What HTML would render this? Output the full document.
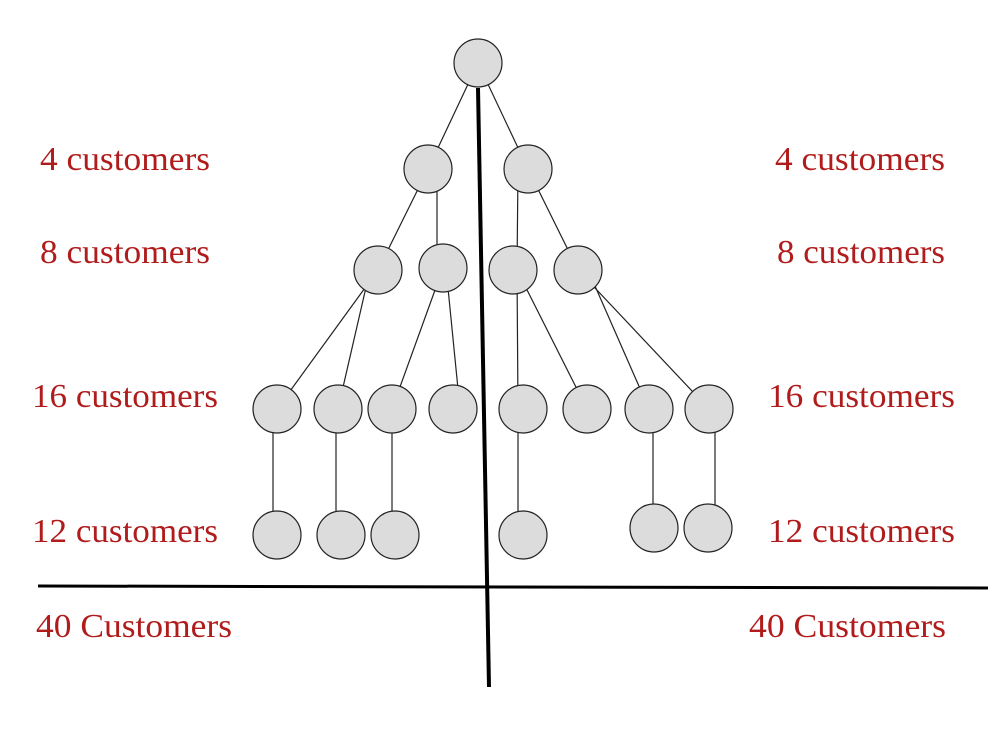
<!DOCTYPE html>
<html><head><style>body{margin:0;background:#fff}</style></head><body>
<svg width="1000" height="750" xmlns="http://www.w3.org/2000/svg" style="display:block">
<g stroke="#222" stroke-width="1.2" fill="none">
<line x1="478" y1="63" x2="428" y2="169"/><line x1="478" y1="63" x2="528" y2="169"/>
<line x1="428" y1="169" x2="378" y2="270"/><line x1="437" y1="169" x2="437" y2="268"/>
<line x1="518" y1="169" x2="517" y2="270"/><line x1="528" y1="169" x2="578" y2="270"/>
<line x1="378" y1="270" x2="277" y2="409"/><line x1="370" y1="270" x2="338" y2="409"/>
<line x1="443" y1="268" x2="392" y2="409"/><line x1="446" y1="268" x2="460" y2="409"/>
<line x1="517" y1="270" x2="518" y2="409"/><line x1="517" y1="270" x2="587" y2="409"/>
<line x1="588" y1="270" x2="649" y2="409"/><line x1="578" y1="270" x2="709" y2="409"/>
<line x1="273" y1="409" x2="273" y2="535"/><line x1="336" y1="409" x2="336" y2="535"/>
<line x1="392" y1="409" x2="392" y2="535"/><line x1="518" y1="409" x2="518" y2="535"/>
<line x1="653" y1="409" x2="653" y2="528"/><line x1="715" y1="409" x2="715" y2="528"/>
</g>
<g fill="#dcdcdc" stroke="#222" stroke-width="1.2">
<circle cx="478" cy="63" r="24"/>
<circle cx="428" cy="169" r="24"/><circle cx="528" cy="169" r="24"/>
<circle cx="378" cy="270" r="24"/><circle cx="443" cy="268" r="24"/><circle cx="513" cy="270" r="24"/><circle cx="578" cy="270" r="24"/>
<circle cx="277" cy="409" r="24"/><circle cx="338" cy="409" r="24"/><circle cx="392" cy="409" r="24"/><circle cx="453" cy="409" r="24"/>
<circle cx="523" cy="409" r="24"/><circle cx="587" cy="409" r="24"/><circle cx="649" cy="409" r="24"/><circle cx="709" cy="409" r="24"/>
<circle cx="277" cy="535" r="24"/><circle cx="341" cy="535" r="24"/><circle cx="395" cy="535" r="24"/><circle cx="523" cy="535" r="24"/>
<circle cx="654" cy="528" r="24"/><circle cx="708" cy="528" r="24"/>
</g>
<line x1="478" y1="88" x2="489" y2="687" stroke="#000" stroke-width="4"/>
<line x1="38" y1="586" x2="988" y2="588" stroke="#000" stroke-width="3"/>
<g fill="#b01c1c" font-family="Liberation Serif, serif" font-size="34" lengthAdjust="spacingAndGlyphs">
<text x="40" y="170" textLength="170" lengthAdjust="spacingAndGlyphs">4 customers</text><text x="775" y="170" textLength="170" lengthAdjust="spacingAndGlyphs">4 customers</text>
<text x="40" y="263" textLength="170" lengthAdjust="spacingAndGlyphs">8 customers</text><text x="777" y="263" textLength="168" lengthAdjust="spacingAndGlyphs">8 customers</text>
<text x="32" y="407" textLength="186" lengthAdjust="spacingAndGlyphs">16 customers</text><text x="768" y="407" textLength="187" lengthAdjust="spacingAndGlyphs">16 customers</text>
<text x="32" y="542" textLength="186" lengthAdjust="spacingAndGlyphs">12 customers</text><text x="768" y="542" textLength="187" lengthAdjust="spacingAndGlyphs">12 customers</text>
<text x="36" y="637" textLength="196" lengthAdjust="spacingAndGlyphs">40 Customers</text><text x="749" y="637" textLength="197" lengthAdjust="spacingAndGlyphs">40 Customers</text>
</g>
</svg>
</body></html>
